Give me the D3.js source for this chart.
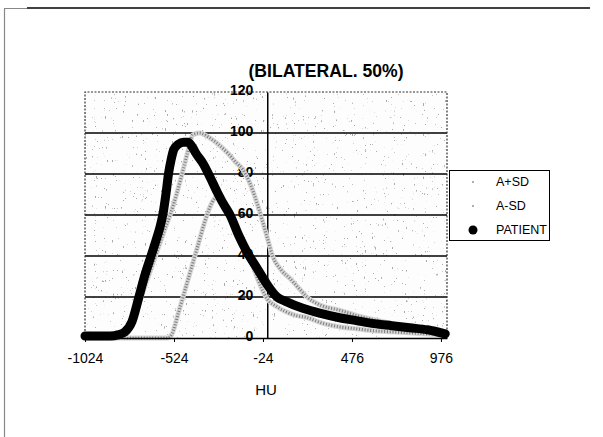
<!DOCTYPE html>
<html>
<head>
<meta charset="utf-8">
<script src="https://cdn.jsdelivr.net/npm/d3@7"></script>
<style>
  body { margin: 0; background: #fff; }
  svg { display: block; }
  .lbl { font-family: "Liberation Sans", Arial, sans-serif; fill: #000; }
</style>
</head>
<body>
<div id="chart"></div>
<script>
// HU histogram data (percent of peak)
var patientHU  = [-1024, -950, -880, -840, -800, -760, -721, -690, -653, -620, -600, -583, -568, -555, -540, -525, -500, -470, -445, -420, -400, -360, -330, -280, -250, -209, -160, -114, -50, 0, 55, 100, 200, 300, 400, 500, 600, 700, 800, 900, 1000];
var patientPct = [1, 1, 1, 1.5, 3, 8, 20, 30, 40, 49, 55, 62, 71, 80, 87, 92, 94.5, 95.5, 95.5, 93, 90, 85, 80, 71, 66, 60, 50, 42, 33, 26, 20, 18, 14.5, 12, 10, 8.5, 7, 6, 5, 4, 2];

var plusHU  = [-1024, -850, -800, -780, -740, -700, -660, -620, -580, -546, -510, -473, -440, -420, -380, -330, -282, -220, -180, -136, -100, -58, -30, 0, 30, 80, 128, 180, 223, 300, 409, 500, 594, 700, 800, 900, 1000];
var plusPct = [0, 0, 1, 3, 12, 22, 32, 42, 52, 60, 70, 82, 93, 99, 100, 98, 95, 90, 86, 82, 76, 66, 58, 49, 40, 33, 29, 24, 20, 16, 13.5, 11, 9, 7, 5.5, 4, 2.5];

var minusHU  = [-1024, -560, -547, -535, -500, -470, -430, -390, -350, -311, -280, -250, -200, -150, -100, -50, -25, 0, 50, 100, 160, 223, 300, 409, 500, 600, 700, 800, 900, 1000];
var minusPct = [0, 0, 0.5, 2, 12, 21, 33, 45, 57, 66, 69, 67, 60, 50, 40, 28, 23, 19, 15.5, 13, 11, 10, 7.5, 5.4, 4.5, 3.5, 3, 2.5, 2, 1.5];

var xTicks = [-1024, -524, -24, 476, 976];
var yTicks = [0, 20, 40, 60, 80, 100, 120];
var legendNames = ["A+SD", "A-SD", "PATIENT"];

var svgWidth = 603;
var svgHeight = 437;

var plot = { left: 85, right: 447, top: 92, bottom: 338 };

var svg = d3.select("#chart")
  .append("svg")
  .attr("width", svgWidth)
  .attr("height", svgHeight);

// scanned-paper speckle for the plot area
var defs = svg.append("defs");
var speck = defs.append("filter")
  .attr("id", "speck")
  .attr("x", 0).attr("y", 0).attr("width", 1).attr("height", 1);
speck.append("feTurbulence")
  .attr("type", "fractalNoise")
  .attr("baseFrequency", "0.9 0.3")
  .attr("numOctaves", 2)
  .attr("seed", 7);
speck.append("feColorMatrix")
  .attr("type", "matrix")
  .attr("values", "0 0 0 0 0.4  0 0 0 0 0.4  0 0 0 0 0.4  16 0 0 0 -11.4");

// outer frame
svg.append("line")
  .attr("x1", 4).attr("x2", 27).attr("y1", 8.5).attr("y2", 8.5)
  .attr("stroke", "#888").attr("stroke-width", 1);
svg.append("line")
  .attr("x1", 27).attr("x2", 590).attr("y1", 8).attr("y2", 8)
  .attr("stroke", "#000").attr("stroke-width", 1.5);
svg.append("line")
  .attr("x1", 4.5).attr("x2", 4.5).attr("y1", 9).attr("y2", svgHeight)
  .attr("stroke", "#888").attr("stroke-width", 1.2);

var x = d3.scaleLinear()
  .domain([-1024, 1010])
  .range([plot.left, plot.right]);

var y = d3.scaleLinear()
  .domain([0, 120])
  .range([plot.bottom, plot.top]);

// plot background
svg.append("rect")
  .attr("x", plot.left).attr("y", plot.top)
  .attr("width", plot.right - plot.left).attr("height", plot.bottom - plot.top)
  .attr("fill", "#fdfdfd");
svg.append("rect")
  .attr("x", plot.left).attr("y", plot.top)
  .attr("width", plot.right - plot.left).attr("height", plot.bottom - plot.top)
  .attr("filter", "url(#speck)");

// gridlines
svg.append("g")
  .selectAll("line")
  .data(yTicks.filter(d => d > 0 && d < 120))
  .enter()
  .append("line")
  .attr("x1", plot.left).attr("x2", plot.right)
  .attr("y1", d => y(d)).attr("y2", d => y(d))
  .attr("stroke", "#000")
  .attr("stroke-width", 1.5);

// dotted plot-area border (top, left, right)
svg.append("path")
  .attr("d", `M${plot.left},${plot.bottom}V${plot.top}H${plot.right}V${plot.bottom}`)
  .attr("fill", "none")
  .attr("stroke", "#333")
  .attr("stroke-width", 1.2)
  .attr("stroke-dasharray", "2 1.5");

// y axis through HU = 0
var leftAxis = d3.axisLeft(y)
  .tickValues(yTicks)
  .tickSize(0)
  .tickPadding(14)
  .tickFormat(d => String(d));

var yAxisG = svg.append("g")
  .attr("transform", `translate(${x(0)}, 0)`)
  .call(leftAxis);
yAxisG.select(".domain").attr("stroke", "#000").attr("stroke-width", 1.5);
yAxisG.selectAll("text")
  .attr("class", "lbl")
  .attr("font-size", "14px")
  .attr("font-weight", "bold")
  .attr("dy", "0.2em");

// curves
var line = d3.line()
  .x(d => x(d[0]))
  .y(d => y(d[1]))
  .curve(d3.curveMonotoneX);

var plusData = d3.zip(plusHU, plusPct);
var minusData = d3.zip(minusHU, minusPct);
var patientData = d3.zip(patientHU, patientPct);

[minusData, plusData].forEach(function(series) {
  svg.append("path")
    .datum(series)
    .attr("d", line)
    .attr("fill", "none")
    .attr("stroke", "#d6d6d6")
    .attr("stroke-width", 5);
  svg.append("path")
    .datum(series)
    .attr("d", line)
    .attr("fill", "none")
    .attr("stroke", "#7a7a7a")
    .attr("stroke-width", 3)
    .attr("stroke-dasharray", "1 1.8");
});

svg.append("path")
  .datum(patientData)
  .attr("d", line)
  .attr("fill", "none")
  .attr("stroke", "#000")
  .attr("stroke-width", 9)
  .attr("stroke-linecap", "round")
  .attr("stroke-linejoin", "round");

// x axis
var bottomAxis = d3.axisBottom(x)
  .tickValues(xTicks)
  .tickSize(4)
  .tickSizeOuter(0)
  .tickPadding(12)
  .tickFormat(d => String(d));

var xAxisG = svg.append("g")
  .attr("transform", `translate(0, ${plot.bottom})`)
  .call(bottomAxis);
xAxisG.select(".domain").attr("stroke", "#000").attr("stroke-width", 1.5);
xAxisG.selectAll("line").attr("stroke", "#000");
xAxisG.selectAll("text")
  .attr("class", "lbl")
  .attr("font-size", "14px")
  .attr("dy", "0.65em");

// axis title
svg.append("text")
  .attr("class", "lbl")
  .attr("x", 266)
  .attr("y", 395)
  .attr("text-anchor", "middle")
  .attr("font-size", "15px")
  .text("HU");

// chart title
svg.append("text")
  .attr("class", "lbl")
  .attr("x", 326)
  .attr("y", 77)
  .attr("text-anchor", "middle")
  .attr("font-size", "19px")
  .attr("font-weight", "bold")
  .attr("textLength", 155)
  .attr("lengthAdjust", "spacingAndGlyphs")
  .text("(BILATERAL. 50%)");

// legend
var legend = svg.append("g");
legend.append("rect")
  .attr("x", 449.5).attr("y", 170.5)
  .attr("width", 100).attr("height", 70)
  .attr("fill", "#fff")
  .attr("stroke", "#000")
  .attr("stroke-width", 1);

var items = legend.selectAll("g.item")
  .data(legendNames)
  .enter()
  .append("g")
  .attr("class", "item")
  .attr("transform", (d, i) => `translate(473, ${182 + i * 24})`);

items.append("circle")
  .attr("r", (d, i) => i === 2 ? 4.5 : 0.9)
  .attr("fill", (d, i) => i === 2 ? "#000" : "#888");

items.append("text")
  .attr("class", "lbl")
  .attr("x", 23)
  .attr("dy", "0.35em")
  .attr("font-size", "12.5px")
  .text(d => d);
</script>
</body>
</html>
